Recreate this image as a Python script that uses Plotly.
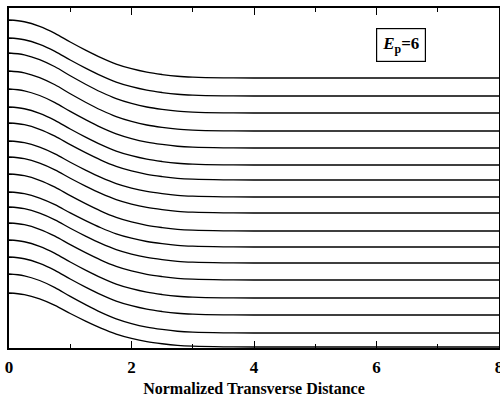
import plotly.graph_objects as go

# Normalized transverse distance samples and the common profile shape
x_samples = [0, 0.25, 0.5, 0.75, 1.0, 1.25, 1.5, 1.75, 2.0, 2.25, 2.5, 2.75, 3.0, 3.5, 4.0, 5.0, 6.0, 7.0, 8.0]
profile = [1.0, 0.97, 0.89, 0.77, 0.62, 0.48, 0.35, 0.24, 0.16, 0.10, 0.06, 0.03, 0.015, 0.003, 0.0, 0.0, 0.0, 0.0, 0.0]

# Value of each stacked curve at x=0 (peak) and its flat level at large x (plateau)
peaks = [32.8, 31.0, 29.5, 27.7, 25.9, 24.1, 22.5, 20.7, 19.1, 17.4, 15.6, 14.1, 12.5, 10.8, 9.1, 7.4, 5.5]
plateaus = [27.0, 25.2, 23.5, 21.7, 20.0, 18.3, 16.8, 15.1, 13.5, 11.7, 10.1, 8.5, 6.8, 5.0, 3.3, 1.5, 0.1]

x_ticks = [0, 2, 4, 6, 8]
label_text = "<b><i>E</i><sub>p</sub>=6</b>"

fig = go.Figure()
for pk, pl in zip(peaks, plateaus):
    ys = [pl + (pk - pl) * p for p in profile]
    fig.add_trace(go.Scatter(x=x_samples, y=ys, mode="lines",
                             line=dict(color="black", width=1.3, shape="spline"),
                             showlegend=False, hoverinfo="skip"))

fig.add_annotation(x=6.4, y=30.3, xref="x", yref="y", text=label_text, showarrow=False,
                   font=dict(family="Liberation Serif", size=17, color="black"),
                   bordercolor="black", borderwidth=1.2, borderpad=5, bgcolor="white")

fig.update_layout(
    width=500, height=406,
    margin=dict(l=9, r=1, t=8, b=58, autoexpand=False),
    paper_bgcolor="white", plot_bgcolor="white",
    font=dict(family="Liberation Serif", color="black"),
    xaxis=dict(range=[0, 8], tickvals=x_ticks, ticktext=[str(v) for v in x_ticks],
               ticks="inside", ticklen=7, tickwidth=1.2, automargin=False,
               tickcolor="black", showline=True, linecolor="black", linewidth=1.5,
               mirror="allticks", showgrid=False, zeroline=False,
               ticklabeloverflow="allow", ticklabelstandoff=3,
               minor=dict(dtick=1, tick0=0, ticks="inside", ticklen=4, tickcolor="black", tickwidth=1),
               tickfont=dict(family="Liberation Serif", size=17, color="black", weight="bold"),
               title=dict(text="<b>Normalized Transverse Distance</b>",
                          font=dict(family="Liberation Serif", size=16, color="black"), standoff=7)),
    yaxis=dict(range=[0, 34], tickvals=peaks, ticks="inside", ticklen=3, tickcolor="black",
               automargin=False,
               showticklabels=False, showline=True, linecolor="black", linewidth=1.5,
               mirror=True, showgrid=False, zeroline=False),
)

fig.write_html("out.html")
